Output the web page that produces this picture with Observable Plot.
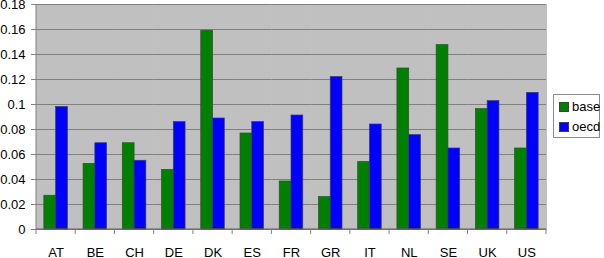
<!DOCTYPE html>
<html>
<head>
<meta charset="utf-8">
<script src="https://cdn.jsdelivr.net/npm/d3@7"></script>
<script src="https://cdn.jsdelivr.net/npm/@observablehq/plot@0.6"></script>
<style>
  body { margin: 0; background: #fff; }
  #wrap { position: relative; width: 604px; height: 258px; font-family: "Liberation Sans", Arial, sans-serif; }
  #legend { position: absolute; left: 553px; top: 94px; width: 45px; height: 42px; border: 1px solid #8c8c8c; background: #fff; font-size: 13px; }
  .item { position: absolute; left: 5px; display: flex; align-items: center; }
  .sw { width: 8px; height: 8px; border: 0.7px solid #404040; margin-right: 3px; }
</style>
</head>
<body>
<div id="wrap"></div>
<script>
const countries = ["AT","BE","CH","DE","DK","ES","FR","GR","IT","NL","SE","UK","US"];
const series = ["base","oecd"];
const baseValues = [0.027,0.0525,0.069,0.0477,0.159,0.0768,0.0384,0.0259,0.054,0.1288,0.1475,0.0963,0.0648];
const oecdValues = [0.098,0.069,0.055,0.086,0.0888,0.086,0.0912,0.122,0.084,0.0755,0.0648,0.1027,0.1093];
const colors = ["#008000","#0000ff"];
const yTicks = [0,0.02,0.04,0.06,0.08,0.1,0.12,0.14,0.16,0.18];

const data = [];
countries.forEach((c, i) => {
  data.push({country: c, series: "base", value: baseValues[i]});
  data.push({country: c, series: "oecd", value: oecdValues[i]});
});

const fmt = d => String(Math.round(d * 100) / 100);

const chart = Plot.plot({
  width: 604,
  height: 258,
  marginLeft: 36,
  marginRight: 58,
  marginTop: 4,
  marginBottom: 29,
  style: {fontSize: "13px", fontFamily: "'Liberation Sans', Arial, sans-serif", background: "transparent", color: "black"},
  fx: {domain: countries, padding: 0, round: false, label: null},
  x: {domain: series, paddingInner: 0, paddingOuter: 0.667, round: false, axis: null},
  y: {domain: [0, 0.18], label: null},
  color: {domain: series, range: colors},
  marks: [
    Plot.frame({fill: "#c0c0c0", stroke: "#c0c0c0"}),
    Plot.gridY(yTicks, {stroke: "#808080", strokeOpacity: 1}),
    Plot.axisY({ticks: yTicks, tickFormat: fmt, tickSize: 5, tickPadding: 6, stroke: "#808080", fill: "black", label: null}),
    Plot.axisFx({anchor: "bottom", tickSize: 0, tickPadding: 18, label: null, fill: "black"}),
    Plot.barY(data, {fx: "country", x: "series", y: "value", fill: "series", stroke: "#404040", strokeWidth: 0.7})
  ]
});

// axis line and category-boundary ticks, positioned through the plot's scales
const fx = chart.scale("fx"), y = chart.scale("y");
const edges = countries.map(c => fx.apply(c)).concat([fx.apply(countries[countries.length - 1]) + fx.bandwidth]);
const g = d3.select(chart).append("g").attr("stroke", "#808080");
g.append("line").attr("x1", edges[0]).attr("x2", edges[0]).attr("y1", y.apply(0.18)).attr("y2", y.apply(0));
g.append("line").attr("x1", edges[0]).attr("x2", edges[edges.length - 1]).attr("y1", y.apply(0)).attr("y2", y.apply(0)).attr("stroke", "#606060");
edges.forEach(e => g.append("line").attr("x1", e).attr("x2", e).attr("y1", y.apply(0)).attr("y2", y.apply(0) + 5));

const wrap = document.getElementById("wrap");
wrap.appendChild(chart);

const legend = document.createElement("div");
legend.id = "legend";
series.forEach((s, i) => {
  const item = document.createElement("div");
  item.className = "item";
  item.style.top = (4 + i * 20) + "px";
  const sw = document.createElement("div");
  sw.className = "sw";
  sw.style.background = colors[i];
  const t = document.createElement("span");
  t.textContent = s;
  item.appendChild(sw);
  item.appendChild(t);
  legend.appendChild(item);
});
wrap.appendChild(legend);
</script>
</body>
</html>
